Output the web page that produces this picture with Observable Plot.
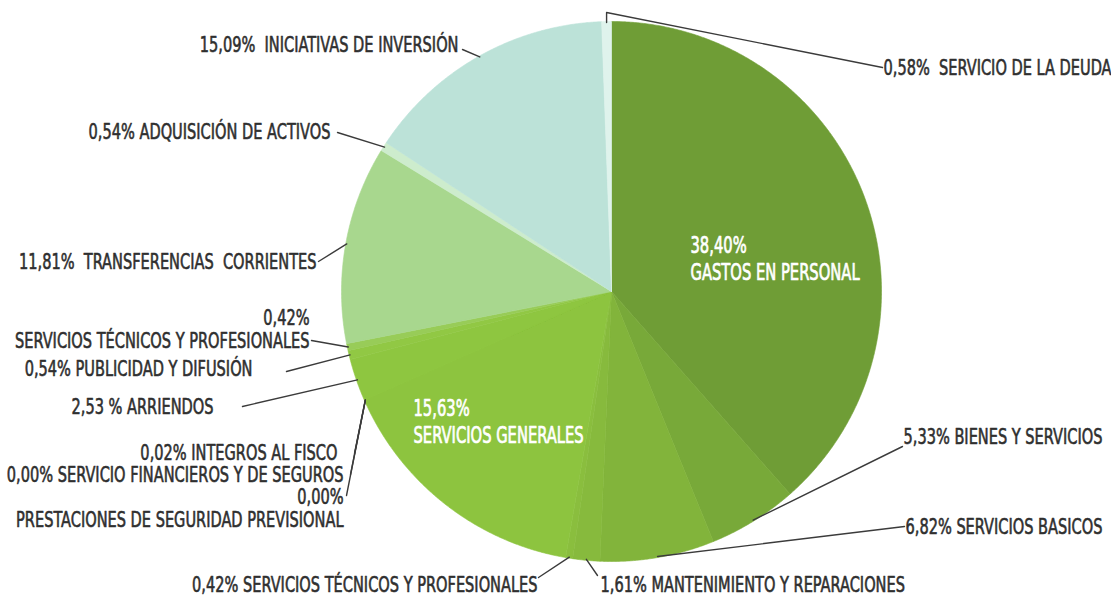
<!DOCTYPE html>
<html>
<head>
<meta charset="utf-8">
<script src="https://cdn.jsdelivr.net/npm/d3@7"></script>
<script src="https://cdn.jsdelivr.net/npm/@observablehq/plot@0.6"></script>
<style>
  html, body { margin: 0; padding: 0; background: #ffffff; }
  #chart svg { display: block; }
</style>
</head>
<body>
<div id="chart"></div>
<script>
// ---------- DATA ----------
const categories = [
  "GASTOS EN PERSONAL",
  "BIENES Y SERVICIOS",
  "SERVICIOS BASICOS",
  "MANTENIMIENTO Y REPARACIONES",
  "SERVICIOS TÉCNICOS Y PROFESIONALES (1)",
  "SERVICIOS GENERALES",
  "PRESTACIONES DE SEGURIDAD PREVISIONAL",
  "SERVICIO FINANCIEROS Y DE SEGUROS",
  "INTEGROS AL FISCO",
  "ARRIENDOS",
  "PUBLICIDAD Y DIFUSIÓN",
  "SERVICIOS TÉCNICOS Y PROFESIONALES (2)",
  "TRANSFERENCIAS CORRIENTES",
  "ADQUISICIÓN DE ACTIVOS",
  "INICIATIVAS DE INVERSIÓN",
  "SERVICIO DE LA DEUDA"
];
const values = [38.40, 5.33, 6.82, 1.61, 0.42, 15.63, 0.00, 0.00, 0.02, 2.53, 0.54, 0.42, 11.81, 0.54, 15.09, 0.58];
const labelLines = [
  ["38,40%", "GASTOS EN PERSONAL"],
  ["5,33% BIENES Y SERVICIOS"],
  ["6,82% SERVICIOS BASICOS"],
  ["1,61% MANTENIMIENTO Y REPARACIONES"],
  ["0,42% SERVICIOS TÉCNICOS Y PROFESIONALES"],
  ["15,63%", "SERVICIOS GENERALES"],
  ["0,00%", "PRESTACIONES DE SEGURIDAD PREVISIONAL"],
  ["0,00% SERVICIO FINANCIEROS Y DE SEGUROS"],
  ["0,02% INTEGROS AL FISCO"],
  ["2,53 % ARRIENDOS"],
  ["0,54% PUBLICIDAD Y DIFUSIÓN"],
  ["0,42%", "SERVICIOS TÉCNICOS Y PROFESIONALES"],
  ["11,81%  TRANSFERENCIAS  CORRIENTES"],
  ["0,54% ADQUISICIÓN DE ACTIVOS"],
  ["15,09%  INICIATIVAS DE INVERSIÓN"],
  ["0,58%  SERVICIO DE LA DEUDA"]
];

// ---------- STYLE / LAYOUT ----------
const sliceColors = [
  "#6f9d36", "#78a939", "#82b43b", "#87ba3d", "#8abe3e", "#8dc43f",
  "#8dc53f", "#8dc53f", "#8dc53f", "#8ec640", "#91c844", "#98cc58",
  "#a8d78e", "#cdeccd", "#bce2d8", "#dff3ec"
];
const W = 1111, H = 603;
const cx = 611, cy = 291, R = 270;
const outScale = [0.9, 1.16], inScale = [0.84, 1.2];
// per category: text anchor x, first line y, anchor side, line gap, inside?, leader attach point, elbow
const layout = [
  {x: 690, y: 245, anchor: "start", gap: 27, inside: true},
  {x: 903, y: 437, anchor: "start", attach: [902, 446]},
  {x: 905, y: 527, anchor: "start", attach: [904, 526]},
  {x: 600, y: 585, anchor: "start", attach: [597, 575]},
  {x: 537, y: 585, anchor: "end", attach: [538, 577]},
  {x: 413, y: 408, anchor: "start", gap: 27, inside: true},
  {x: 343, y: 497, anchor: "end", gap: 23, attach: [346, 495]},
  {x: 343, y: 475, anchor: "end", attach: [350, 474]},
  {x: 337, y: 453, anchor: "end", attach: [354, 453]},
  {x: 213, y: 407, anchor: "end", attach: [242, 406]},
  {x: 252, y: 369, anchor: "end", attach: [286, 371]},
  {x: 309, y: 318, anchor: "end", gap: 23, attach: [311, 340]},
  {x: 316, y: 262, anchor: "end", attach: [318, 261]},
  {x: 330, y: 132, anchor: "end", attach: [337, 132]},
  {x: 458, y: 45, anchor: "end", attach: [462, 49]},
  {x: 883, y: 68, anchor: "start", attach: [882, 67], elbowY: 12}
];

// ---------- GEOMETRY FROM DATA ----------
const total = d3.sum(values);
let acc = 0;
const slices = categories.map((c, i) => {
  const a0 = acc / total * 2 * Math.PI;
  acc += values[i];
  const a1 = acc / total * 2 * Math.PI;
  return {c, i, a0, a1, mid: (a0 + a1) / 2};
});
const polar = (a, r) => [cx + r * Math.sin(a), cy - r * Math.cos(a)];

const polyPts = slices.flatMap(s => {
  const n = Math.max(2, Math.ceil((s.a1 - s.a0) / 0.005));
  const pts = [{c: s.c, x: cx, y: cy}];
  for (let k = 0; k <= n; k++) {
    const [x, y] = polar(s.a0 + (s.a1 - s.a0) * k / n, R);
    pts.push({c: s.c, x, y});
  }
  pts.push({c: s.c, x: cx, y: cy});
  return pts;
});

const leaderPts = slices.flatMap(s => {
  const L = layout[s.i];
  if (!L.attach) return [];
  const [rx, ry] = polar(s.mid, R - 1);
  const pts = [{c: s.c, x: rx, y: ry}];
  if (L.elbowY !== undefined) pts.push({c: s.c, x: rx, y: L.elbowY});
  pts.push({c: s.c, x: L.attach[0], y: L.attach[1]});
  return pts;
});

const textRows = slices.flatMap(s => {
  const L = layout[s.i];
  return labelLines[s.i].map((t, j) => ({
    text: t, x: L.x, y: L.y + j * (L.gap || 20), anchor: L.anchor, inside: !!L.inside
  }));
});

const font = "'DejaVu Sans Condensed', 'Liberation Sans Narrow', sans-serif";
const ink = "#2f2f2f";

const chart = Plot.plot({
  width: W, height: H,
  margin: 0,
  style: {background: "#ffffff", overflow: "visible"},
  x: {domain: [0, W], range: [0, W], axis: null},
  y: {domain: [0, H], range: [0, H], axis: null},
  color: {type: "ordinal", domain: categories, range: sliceColors},
  marks: [
    Plot.line(polyPts, {x: "x", y: "y", z: "c", fill: "c", stroke: "c", strokeWidth: 0.6, curve: "linear"}),
    Plot.line(leaderPts, {x: "x", y: "y", z: "c", stroke: "#3b3b3b", strokeWidth: 1.4, curve: "linear"}),
    Plot.text(textRows.filter(d => !d.inside && d.anchor === "start"), {
      x: "x", y: "y", text: "text", textAnchor: "start", fill: ink, stroke: ink, strokeWidth: 0.5,
      fontFamily: font, fontSize: 18, className: "lbl-out"
    }),
    Plot.text(textRows.filter(d => !d.inside && d.anchor === "end"), {
      x: "x", y: "y", text: "text", textAnchor: "end", fill: ink, stroke: ink, strokeWidth: 0.5,
      fontFamily: font, fontSize: 18, className: "lbl-out"
    }),
    Plot.text(textRows.filter(d => d.inside), {
      x: "x", y: "y", text: "text", textAnchor: "start", fill: "#ffffff", stroke: "#ffffff", strokeWidth: 0.6,
      fontFamily: font, fontSize: 19.5, className: "lbl-in"
    })
  ]
});

// condense + stretch label glyphs to mimic the tall condensed typeface
const rescale = (sel, [sx, sy]) => chart.querySelectorAll(sel).forEach(t => {
  const tr = t.getAttribute("transform");
  if (tr) t.setAttribute("transform", `${tr} scale(${sx},${sy})`);
});
rescale(".lbl-out text", outScale);
rescale(".lbl-in text", inScale);

document.getElementById("chart").append(chart);
</script>
</body>
</html>
